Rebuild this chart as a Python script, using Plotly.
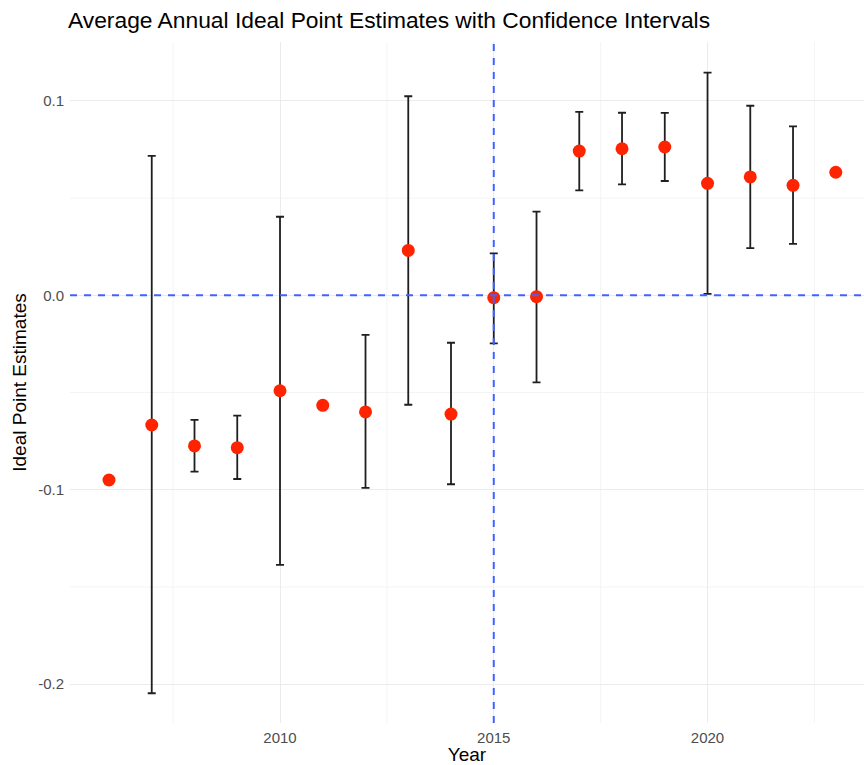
import plotly.graph_objects as go

# Average annual ideal point estimates and their confidence bounds
years = [2006, 2007, 2008, 2009, 2010, 2011, 2012, 2013, 2014,
         2015, 2016, 2017, 2018, 2019, 2020, 2021, 2022, 2023]
estimate = [-0.0950, -0.0667, -0.0775, -0.0784, -0.0491, -0.0566, -0.0600, 0.0231, -0.0611,
            -0.0012, -0.0007, 0.0742, 0.0754, 0.0763, 0.0576, 0.0609, 0.0566, 0.0633]
upper = [None, 0.0717, -0.0641, -0.0619, 0.0404, None, -0.0204, 0.1024, -0.0244,
         0.0216, 0.0430, 0.0944, 0.0939, 0.0938, 0.1145, 0.0975, 0.0869, None]
lower = [None, -0.2047, -0.0907, -0.0945, -0.1387, None, -0.0991, -0.0563, -0.0972,
         -0.0247, -0.0448, 0.0540, 0.0571, 0.0588, 0.0007, 0.0243, 0.0265, None]

x_ticks = [2010, 2015, 2020]
y_ticks = [-0.2, -0.1, 0.0, 0.1]
y_tick_text = ["-0.2", "-0.1", "0.0", "0.1"]
reference_year = 2015
reference_value = 0.0

err_plus = [(u - e) if u is not None else float("nan") for u, e in zip(upper, estimate)]
err_minus = [(e - l) if l is not None else float("nan") for l, e in zip(lower, estimate)]

fig = go.Figure()
fig.add_trace(go.Scatter(
    x=years,
    y=estimate,
    mode="markers",
    marker=dict(color="#FF2400", size=13, line=dict(width=0)),
    error_y=dict(
        type="data",
        symmetric=False,
        array=err_plus,
        arrayminus=err_minus,
        color="#1f1f1f",
        thickness=1.8,
        width=4,
    ),
    showlegend=False,
))

grid_major = "#EBEBEB"
grid_minor = "#F4F4F4"

# minor gridlines as shapes underneath the data
for xm in [2007.5, 2012.5, 2017.5, 2022.5]:
    fig.add_shape(type="line", xref="x", yref="paper", x0=xm, x1=xm, y0=0, y1=1,
                  line=dict(color=grid_minor, width=1), layer="below")
for ym in [-0.15, -0.05, 0.05]:
    fig.add_shape(type="line", xref="paper", yref="y", x0=0, x1=1, y0=ym, y1=ym,
                  line=dict(color=grid_minor, width=1), layer="below")

# dashed reference lines drawn over the points
ref_line = dict(color="#4262FF", width=2, dash="7px,7px")
fig.add_shape(type="line", xref="x", yref="paper", x0=reference_year, x1=reference_year,
              y0=0, y1=1, line=ref_line, layer="above")
fig.add_shape(type="line", xref="paper", yref="y", x0=0, x1=1,
              y0=reference_value, y1=reference_value, line=ref_line, layer="above")

fig.update_layout(
    width=864,
    height=765,
    paper_bgcolor="white",
    plot_bgcolor="white",
    margin=dict(l=70, r=0, t=42, b=42),
    font=dict(family="Liberation Sans, Arial, sans-serif", color="#000000"),
    title=dict(
        text="Average Annual Ideal Point Estimates with Confidence Intervals",
        x=68 / 864, xanchor="left",
        y=1 - 20 / 765, yanchor="middle",
        font=dict(size=22.8, color="#000000"),
    ),
    xaxis=dict(
        range=[2005.088, 2023.66],
        tickvals=x_ticks,
        ticktext=[str(v) for v in x_ticks],
        showgrid=True,
        gridcolor=grid_major,
        gridwidth=1.3,
        zeroline=False,
        showline=False,
        ticks="",
        ticklabelstandoff=4,
        tickfont=dict(size=15, color="#4D4D4D"),
        title=dict(text="Year", font=dict(size=19, color="#000000"), standoff=2),
    ),
    yaxis=dict(
        range=[-0.2200, 0.1303],
        tickvals=y_ticks,
        ticktext=y_tick_text,
        showgrid=True,
        gridcolor=grid_major,
        gridwidth=1.3,
        zeroline=False,
        showline=False,
        ticks="",
        ticklabelstandoff=5,
        tickfont=dict(size=15, color="#4D4D4D"),
        title=dict(text="Ideal Point Estimates", font=dict(size=19, color="#000000"), standoff=6),
    ),
)

fig.write_html("out.html")
